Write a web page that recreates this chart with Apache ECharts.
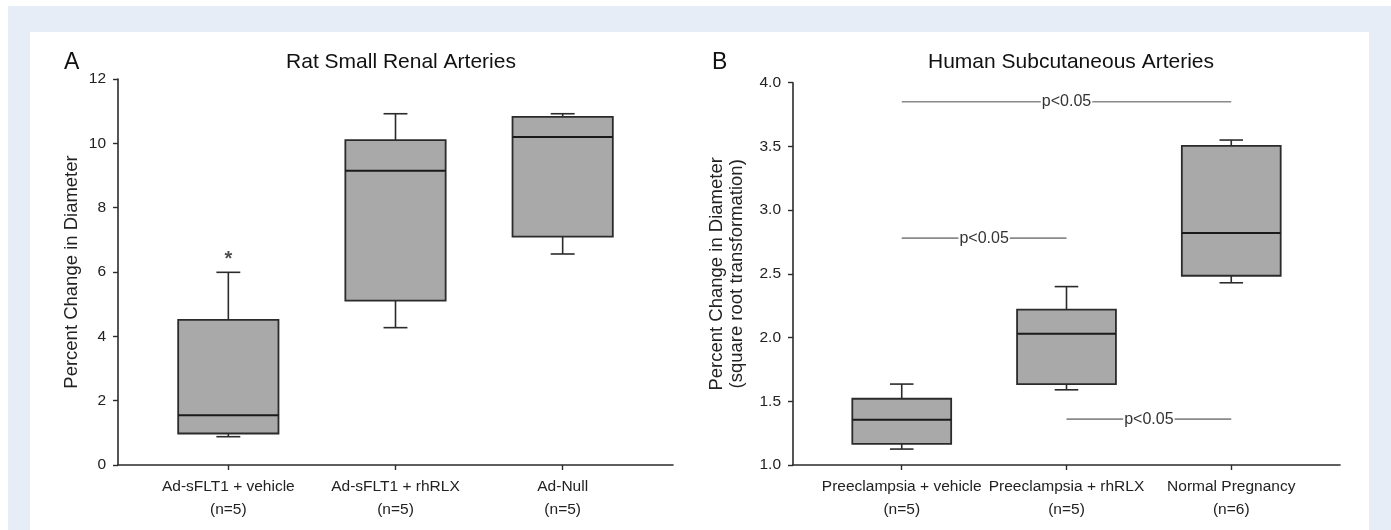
<!DOCTYPE html>
<html>
<head>
<meta charset="utf-8">
<script src="https://cdn.jsdelivr.net/npm/echarts@6/dist/echarts.min.js"></script>
<style>
html,body{margin:0;padding:0;background:#fff;}
#chart{width:1391px;height:530px;}
</style>
</head>
<body>
<div id="chart"></div>
<script>
// ---- Panel A data ----
const catsA = ['Ad-sFLT1 + vehicle', 'Ad-sFLT1 + rhRLX', 'Ad-Null'];
const nA = ['(n=5)', '(n=5)', '(n=5)'];
const minA = [0.88, 4.27, 6.56];
const q1A = [0.98, 5.11, 7.10];
const medA = [1.55, 9.15, 10.20];
const q3A = [4.51, 10.10, 10.82];
const maxA = [5.99, 10.92, 10.92];
const starPosA = [1];
const starValA = [6.47];
const yTicksA = [0, 2, 4, 6, 8, 10, 12];

// ---- Panel B data ----
const catsB = ['Preeclampsia + vehicle', 'Preeclampsia + rhRLX', 'Normal Pregnancy'];
const nB = ['(n=5)', '(n=5)', '(n=6)'];
const minB = [1.125, 1.59, 2.43];
const q1B = [1.165, 1.635, 2.485];
const medB = [1.355, 2.03, 2.82];
const q3B = [1.52, 2.22, 3.505];
const maxB = [1.635, 2.40, 3.55];
const yTicksB = [1.0, 1.5, 2.0, 2.5, 3.0, 3.5, 4.0];
const sigFrom = [1, 1, 2];
const sigTo = [3, 2, 3];
const sigY = [3.85, 2.78, 1.36];
const sigText = ['p<0.05', 'p<0.05', 'p<0.05'];

const FONT = '"Liberation Sans", Arial, sans-serif';
const boxFill = '#a9a9a9';
const dark = '#2b2b2b';

function boxData(mn, q1, md, q3, mx) {
  return mn.map((v, i) => [i + 1, mn[i], q1[i], md[i], q3[i], mx[i]]);
}

function renderBox(params, api) {
  const x = api.value(0);
  const pMin = api.coord([x, api.value(1)]);
  const pQ1 = api.coord([x, api.value(2)]);
  const pMed = api.coord([x, api.value(3)]);
  const pQ3 = api.coord([x, api.value(4)]);
  const pMax = api.coord([x, api.value(5)]);
  const halfW = api.size([0.6, 0])[0] / 2;
  const capH = api.size([0.143, 0])[0] / 2;
  const cx = pMed[0];
  const ls = { stroke: dark, lineWidth: 1.6 };
  return {
    type: 'group',
    children: [
      { type: 'line', shape: { x1: cx, y1: pMax[1], x2: cx, y2: pQ3[1] }, style: ls },
      { type: 'line', shape: { x1: cx - capH, y1: pMax[1], x2: cx + capH, y2: pMax[1] }, style: ls },
      { type: 'line', shape: { x1: cx, y1: pMin[1], x2: cx, y2: pQ1[1] }, style: ls },
      { type: 'line', shape: { x1: cx - capH, y1: pMin[1], x2: cx + capH, y2: pMin[1] }, style: ls },
      { type: 'rect', shape: { x: cx - halfW, y: pQ3[1], width: 2 * halfW, height: pQ1[1] - pQ3[1] },
        style: { fill: boxFill, stroke: dark, lineWidth: 1.8 } },
      { type: 'line', shape: { x1: cx - halfW, y1: pMed[1], x2: cx + halfW, y2: pMed[1] },
        style: { stroke: '#1a1a1a', lineWidth: 2 } }
    ]
  };
}

function renderSig(params, api) {
  const a = api.coord([api.value(0), api.value(2)]);
  const b = api.coord([api.value(1), api.value(2)]);
  const txt = sigText[params.dataIndex];
  return {
    type: 'group',
    children: [
      { type: 'line', shape: { x1: a[0], y1: a[1], x2: b[0], y2: b[1] },
        style: { stroke: '#8a8a8a', lineWidth: 1.6 } },
      { type: 'text', x: (a[0] + b[0]) / 2, y: a[1],
        style: { text: txt, fill: '#333', font: '16px ' + FONT, align: 'center', verticalAlign: 'middle',
          backgroundColor: '#fff', padding: [0, 1] } }
    ]
  };
}

function xAxisFor(gridIndex, cats, ns) {
  return {
    type: 'value', gridIndex: gridIndex, min: 0.34, max: 3.66,
    splitLine: { show: false },
    axisLine: { show: true, onZero: false, lineStyle: { color: dark, width: 1.6 } },
    axisTick: { show: true, length: 5, customValues: [1, 2, 3], lineStyle: { color: dark, width: 1.4 } },
    axisLabel: {
      customValues: [1, 2, 3], margin: 10, color: '#222', fontFamily: FONT, fontSize: 15.5, lineHeight: 23,
      formatter: function (v) { const i = Math.round(v) - 1; return cats[i] + '\n' + ns[i]; }
    }
  };
}

const chart = echarts.init(document.getElementById('chart'), null, { renderer: 'canvas' });
chart.setOption({
  animation: false,
  backgroundColor: '#ffffff',
  graphic: [
    { type: 'rect', z: -10, shape: { x: 8, y: 6, width: 1391 - 8, height: 530 - 6 }, style: { fill: '#e6edf7' } },
    { type: 'rect', z: -9, shape: { x: 30, y: 32, width: 1369 - 30, height: 530 - 32 }, style: { fill: '#ffffff' } }
  ],
  title: [
    { text: 'A', left: 59, top: 46, textStyle: { fontFamily: FONT, fontSize: 23, fontWeight: 'normal', color: '#111' } },
    { text: 'B', left: 707, top: 46, textStyle: { fontFamily: FONT, fontSize: 23, fontWeight: 'normal', color: '#111' } },
    { text: 'Rat Small Renal Arteries', left: 396, top: 47, textAlign: 'center',
      textStyle: { fontFamily: FONT, fontSize: 21, fontWeight: 'normal', color: '#111' } },
    { text: 'Human Subcutaneous Arteries', left: 1066, top: 47, textAlign: 'center',
      textStyle: { fontFamily: FONT, fontSize: 21, fontWeight: 'normal', color: '#111' } }
  ],
  grid: [
    { left: 118, right: 1391 - 673, top: 79, bottom: 65 },
    { left: 793, right: 1391 - 1340, top: 82.7, bottom: 65 }
  ],
  xAxis: [xAxisFor(0, catsA, nA), xAxisFor(1, catsB, nB)],
  yAxis: [
    {
      type: 'value', gridIndex: 0, min: yTicksA[0], max: yTicksA[yTicksA.length - 1], interval: yTicksA[1] - yTicksA[0],
      splitLine: { show: false },
      name: 'Percent Change in Diameter', nameLocation: 'middle', nameGap: 37,
      nameTextStyle: { fontFamily: FONT, fontSize: 18.5, color: '#222' },
      axisLine: { show: true, lineStyle: { color: dark, width: 1.6 } },
      axisTick: { show: true, length: 5, lineStyle: { color: dark, width: 1.4 } },
      axisLabel: { margin: 12, color: '#222', fontFamily: FONT, fontSize: 15.5 }
    },
    {
      type: 'value', gridIndex: 1, min: yTicksB[0], max: yTicksB[yTicksB.length - 1], interval: yTicksB[1] - yTicksB[0],
      splitLine: { show: false },
      name: 'Percent Change in Diameter\n(square root transformation)', nameLocation: 'middle', nameGap: 46,
      nameTextStyle: { fontFamily: FONT, fontSize: 18.5, color: '#222', lineHeight: 20 },
      axisLine: { show: true, lineStyle: { color: dark, width: 1.6 } },
      axisTick: { show: true, length: 5, lineStyle: { color: dark, width: 1.4 } },
      axisLabel: { margin: 12, color: '#222', fontFamily: FONT, fontSize: 15.5,
        formatter: function (v) { return v.toFixed(1); } }
    }
  ],
  series: [
    { type: 'custom', xAxisIndex: 0, yAxisIndex: 0, renderItem: renderBox,
      encode: { x: 0, y: [1, 2, 3, 4, 5] }, data: boxData(minA, q1A, medA, q3A, maxA) },
    { type: 'custom', xAxisIndex: 1, yAxisIndex: 1, renderItem: renderBox,
      encode: { x: 0, y: [1, 2, 3, 4, 5] }, data: boxData(minB, q1B, medB, q3B, maxB) },
    { type: 'custom', xAxisIndex: 1, yAxisIndex: 1, renderItem: renderSig,
      encode: { x: [0, 1], y: 2 }, data: sigFrom.map((f, i) => [f, sigTo[i], sigY[i]]) },
    { type: 'scatter', xAxisIndex: 0, yAxisIndex: 0, symbolSize: 0,
      data: starPosA.map((x, i) => [x, starValA[i]]),
      label: { show: true, position: 'inside', formatter: '*', fontFamily: FONT, fontSize: 20,
        fontWeight: 'bold', color: '#222', offset: [0, 3] } }
  ]
});
</script>
</body>
</html>
